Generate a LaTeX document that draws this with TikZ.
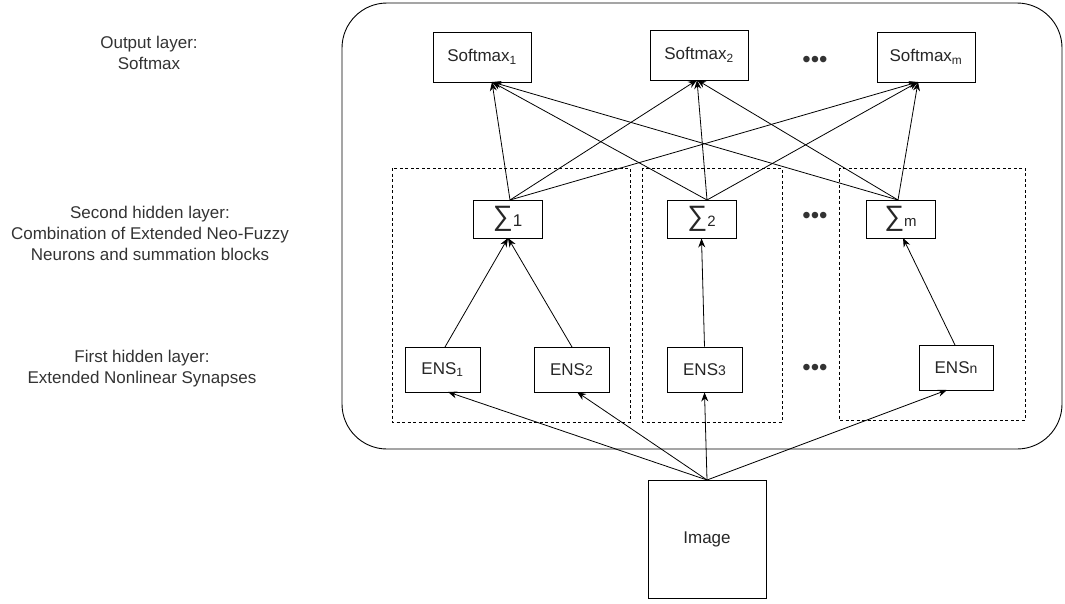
\documentclass[tikz,border=0pt]{standalone}
\usepackage{fontspec}
\setmainfont{Liberation Sans}
\usetikzlibrary{arrows.meta}
\begin{document}
\begin{tikzpicture}[x=1pt,y=-1pt,
  box/.style={draw,line width=0.9pt,minimum width=#1,inner sep=0pt,font=\fontsize{17}{19}\selectfont,text=black!85},
  grp/.style={draw,dashed,dash pattern=on 3pt off 2.5pt,line width=0.8pt},
  arr/.style={line width=0.8pt,-{Stealth[length=9pt,width=7pt]}},
  lbl/.style={align=center,font=\fontsize{17}{21}\selectfont,text=black!80},
  dots/.style={font=\fontsize{24}{24}\selectfont,text=black!80},
  sig/.style={box=69pt,minimum height=38pt,font=\fontsize{28}{28}\selectfont}]
\useasboundingbox (0,0) rectangle (1065,603);
\draw[line width=0.9pt,rounded corners=45pt] (342,3) rectangle (1062,449);
% dashed groups
\draw[grp] (392,168) rectangle (630,422);
\draw[grp] (642,168) rectangle (782,422);
\draw[grp] (839,168) rectangle (1025,420);
% output layer
\node[box=98pt,minimum height=50pt] (s1) at (482,57) {Softmax\textsubscript{1}};
\node[box=98pt,minimum height=50pt] (s2) at (699,55) {Softmax\textsubscript{2}};
\node[box=98pt,minimum height=50pt] (sm) at (926,57) {Softmax\textsubscript{m}};
\node[dots] (d1) at (815,62) {\textbullet\textbullet\textbullet};
% sums
\node[sig] (g1) at (507.5,219) {∑\raisebox{-1pt}{\fontsize{17}{17}\selectfont 1}};
\node[sig] (g2) at (701.5,219) {∑\raisebox{-1pt}{\fontsize{15}{15}\selectfont 2}};
\node[sig] (gm) at (900.5,219) {∑\raisebox{-1pt}{\fontsize{15}{15}\selectfont m}};
\node[dots] (d2) at (815,218) {\textbullet\textbullet\textbullet};
% ENS
\node[box=75pt,minimum height=45pt] (e1) at (442.5,369.5) {ENS\textsubscript{1}};
\node[box=75pt,minimum height=45pt] (e2) at (571.5,369.5) {ENS{\fontsize{14}{14}\selectfont 2}};
\node[box=75pt,minimum height=45pt] (e3) at (704.5,369.5) {ENS{\fontsize{14}{14}\selectfont 3}};
\node[box=74pt,minimum height=45pt] (en) at (956,367.5) {ENS{\fontsize{14}{14}\selectfont n}};
\node[dots] (d3) at (815,370) {\textbullet\textbullet\textbullet};
% image
\node[box=118pt,minimum height=118pt] (img) at (707,539) {Image};
% left labels
\node[lbl] (l1) at (149,53) {Output layer:\\Softmax};
\node[lbl] (l2) at (150,233) {Second hidden layer:\\Combination of Extended Neo-Fuzzy\\Neurons and summation blocks};
\node[lbl] (l3) at (142,369) {First hidden layer:\\Extended Nonlinear Synapses};
% image to ENS
\coordinate (it) at (707,480);
\draw[arr] (it) -- (448,392);
\draw[arr] (it) -- (577,392);
\draw[arr] (it) -- (e3.south);
\draw[arr] (it) -- (947,390);
% ENS to sums
\draw[arr] (445,347) -- (508,238);
\draw[arr] (572,347) -- (508,238);
\draw[arr] (e3.north) -- (g2.south);
\draw[arr] (955,345) -- (903,238);
% sums to softmax
\coordinate (t1) at (510,200);
\coordinate (t2) at (707,200);
\coordinate (tm) at (898,200);
\foreach \t in {t1,t2,tm}{
  \draw[arr] (\t) -- (492,82);
  \draw[arr] (\t) -- (697,80);
  \draw[arr] (\t) -- (918,82);
}
\end{tikzpicture}
\end{document}
